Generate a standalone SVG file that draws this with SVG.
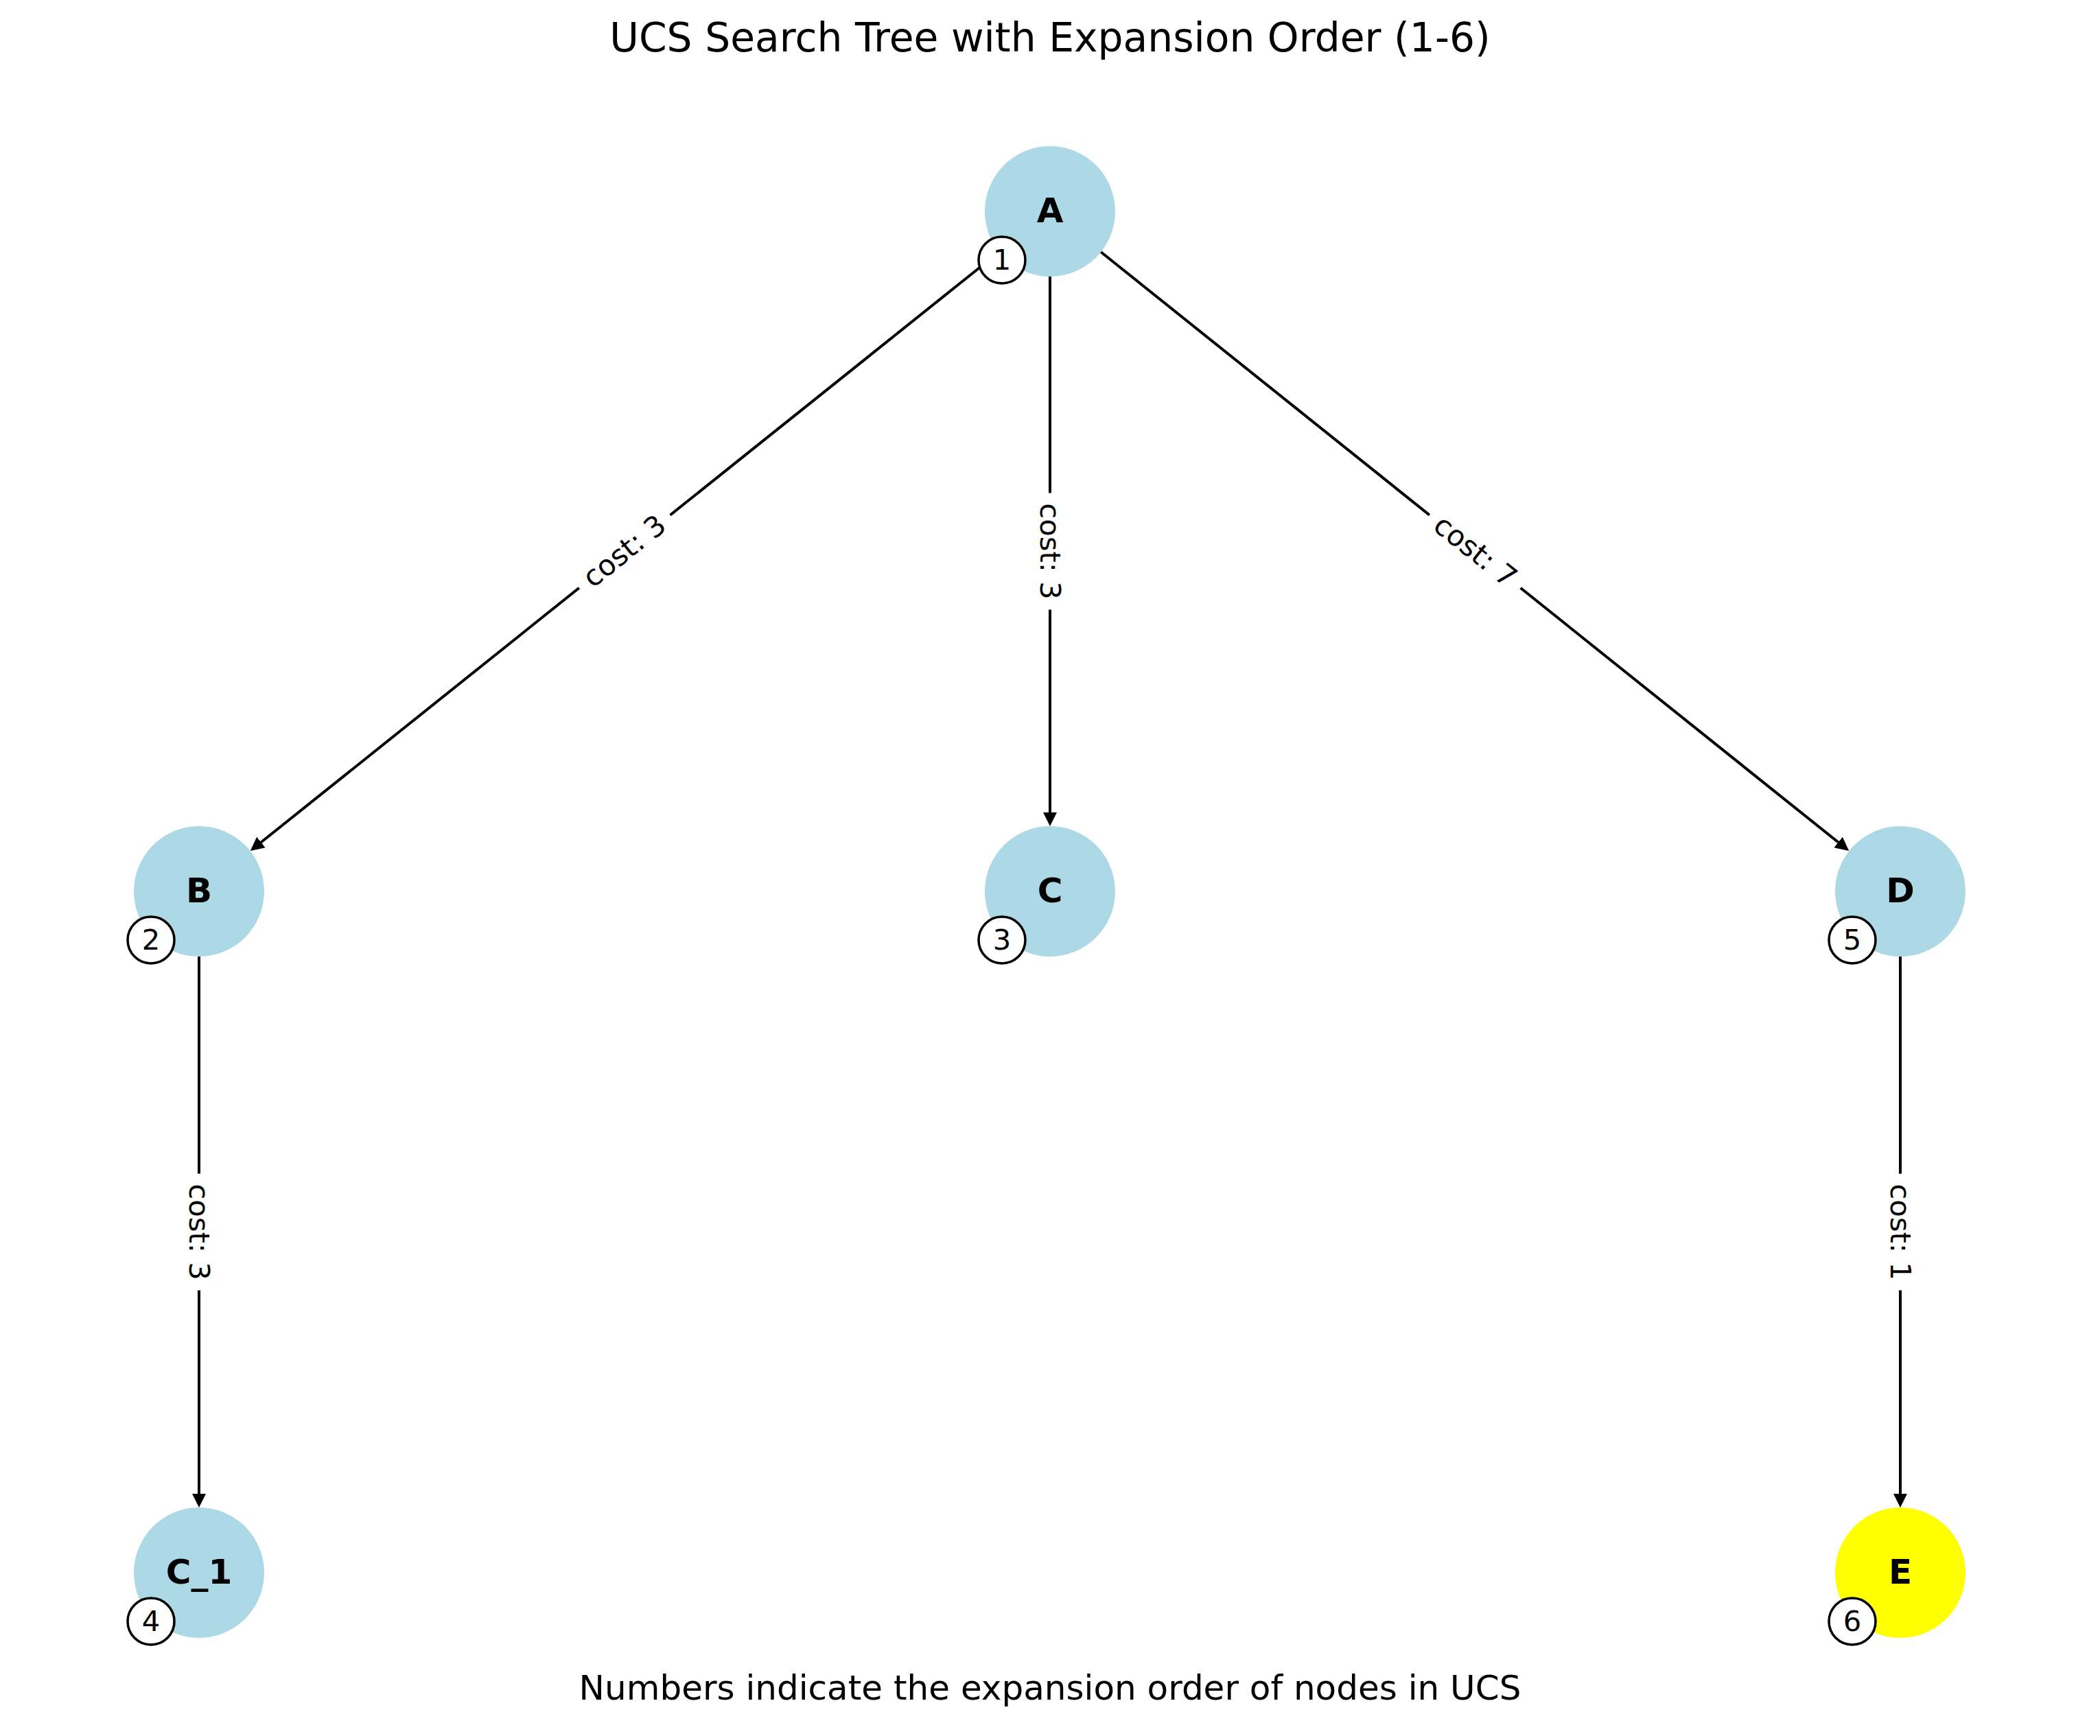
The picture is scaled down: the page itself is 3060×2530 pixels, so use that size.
<svg xmlns="http://www.w3.org/2000/svg" width="3060" height="2530" viewBox="0 0 3060 2530">
<style>
.bg{fill:#ffffff}
.edge{stroke:#000;stroke-width:4;fill:none}
.node{fill:#ADD8E6}
.goal{fill:#FFFF00}
.nlabel{font-family:"DejaVu Sans","Liberation Sans",sans-serif;font-size:50px;font-weight:bold;fill:#000;text-anchor:middle}
.badge{fill:#fff;stroke:#000;stroke-width:3.5}
.blabel{font-family:"DejaVu Sans","Liberation Sans",sans-serif;font-size:41.7px;fill:#000;text-anchor:middle}
.elabel{font-family:"DejaVu Sans","Liberation Sans",sans-serif;font-size:41.7px;fill:#000;text-anchor:middle}
.lbox{fill:#fff;stroke:none}
.title{font-family:"DejaVu Sans","Liberation Sans",sans-serif;font-size:58.3px;fill:#000;text-anchor:middle}
.foot{font-family:"DejaVu Sans","Liberation Sans",sans-serif;font-size:50px;fill:#000;text-anchor:middle}
</style>
<defs>
<marker id="arr" markerUnits="userSpaceOnUse" markerWidth="20" markerHeight="20" viewBox="0 0 20 20" refX="6" refY="10" orient="auto">
<path d="M0,0 L20,10 L0,20 z" fill="#000"/>
</marker>
</defs>
<rect class="bg" x="0" y="0" width="3060" height="2530"/>
<text class="title" x="1530" y="75">UCS Search Tree with Expansion Order (1-6)</text>

<g id="connectors">
<line class="edge" x1="1455.8" y1="367.3" x2="375.7" y2="1231.3" marker-end="url(#arr)"/>
<line class="edge" x1="1530" y1="403" x2="1530" y2="1190" marker-end="url(#arr)"/>
<line class="edge" x1="1604.2" y1="367.3" x2="2683.3" y2="1231.3" marker-end="url(#arr)"/>
<line class="edge" x1="290" y1="1394" x2="290" y2="2183" marker-end="url(#arr)"/>
<line class="edge" x1="2769" y1="1394" x2="2769" y2="2183" marker-end="url(#arr)"/>
<g transform="translate(910,803.5) rotate(-38.66)">
<rect class="lbox" x="-85" y="-32" width="170" height="64" rx="14"/>
<text class="elabel" x="0" y="0" dy="0.33em">cost: 3</text>
</g>
<g transform="translate(1530,803.5) rotate(90)">
<rect class="lbox" x="-85" y="-32" width="170" height="64" rx="14"/>
<text class="elabel" x="0" y="0" dy="0.33em">cost: 3</text>
</g>
<g transform="translate(2149.5,803.5) rotate(38.66)">
<rect class="lbox" x="-85" y="-32" width="170" height="64" rx="14"/>
<text class="elabel" x="0" y="0" dy="0.33em">cost: 7</text>
</g>
<g transform="translate(290,1795.5) rotate(90)">
<rect class="lbox" x="-85" y="-32" width="170" height="64" rx="14"/>
<text class="elabel" x="0" y="0" dy="0.33em">cost: 3</text>
</g>
<g transform="translate(2769,1795.5) rotate(90)">
<rect class="lbox" x="-85" y="-32" width="170" height="64" rx="14"/>
<text class="elabel" x="0" y="0" dy="0.33em">cost: 1</text>
</g>
</g>

<g id="node-A">
<circle class="node" cx="1530" cy="308" r="95"/>
<text class="nlabel" x="1530" y="324">A</text>
<circle class="badge" cx="1460" cy="379" r="34"/>
<text class="blabel" x="1460" y="393">1</text>
</g>
<g id="node-B">
<circle class="node" cx="290" cy="1299" r="95"/>
<text class="nlabel" x="290" y="1315">B</text>
<circle class="badge" cx="220" cy="1370" r="34"/>
<text class="blabel" x="220" y="1384">2</text>
</g>
<g id="node-C">
<circle class="node" cx="1530" cy="1299" r="95"/>
<text class="nlabel" x="1530" y="1315">C</text>
<circle class="badge" cx="1460" cy="1370" r="34"/>
<text class="blabel" x="1460" y="1384">3</text>
</g>
<g id="node-C_1">
<circle class="node" cx="290" cy="2292" r="95"/>
<text class="nlabel" x="290" y="2308">C_1</text>
<circle class="badge" cx="220" cy="2363" r="34"/>
<text class="blabel" x="220" y="2377">4</text>
</g>
<g id="node-D">
<circle class="node" cx="2769" cy="1299" r="95"/>
<text class="nlabel" x="2769" y="1315">D</text>
<circle class="badge" cx="2699" cy="1370" r="34"/>
<text class="blabel" x="2699" y="1384">5</text>
</g>
<g id="node-E">
<circle class="goal" cx="2769" cy="2292" r="95"/>
<text class="nlabel" x="2769" y="2308">E</text>
<circle class="badge" cx="2699" cy="2363" r="34"/>
<text class="blabel" x="2699" y="2377">6</text>
</g>

<text class="foot" x="1530" y="2477">Numbers indicate the expansion order of nodes in UCS</text>
</svg>
